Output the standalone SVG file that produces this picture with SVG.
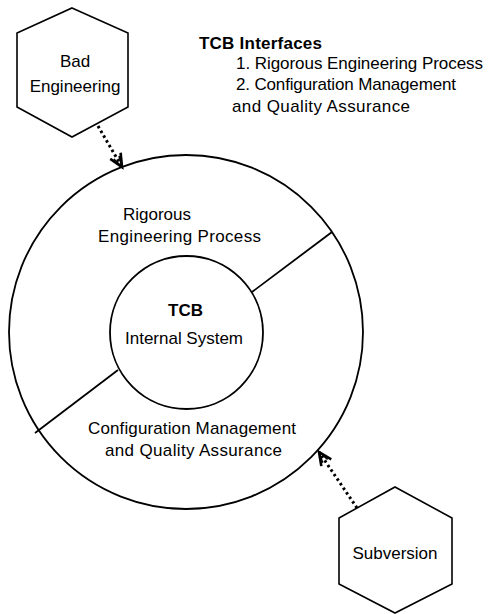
<svg xmlns="http://www.w3.org/2000/svg" width="490" height="614" viewBox="0 0 490 614">
<style>
  text { font-family: "Liberation Sans", Arial, sans-serif; font-size: 17px; fill: #000; }
  .b { font-weight: bold; }
  .shape { fill: #fff; stroke: #000; stroke-width: 1.6; }
  .ring { fill: none; stroke: #000; stroke-width: 1.8; }
  .div { stroke: #000; stroke-width: 1.8; fill: none; }
  .dot { stroke: #000; stroke-width: 3; fill: none; stroke-dasharray: 2.5 3; }
</style>
<defs>
  <marker id="arr" markerUnits="userSpaceOnUse" markerWidth="18" markerHeight="16" refX="15" refY="8" orient="auto" overflow="visible">
    <path d="M2,2 L15,8 L2,14" fill="none" stroke="#000" stroke-width="2.6" stroke-dasharray="none"/>
    <path d="M4,5 L15,8 L4,11" fill="none" stroke="#000" stroke-width="1.6" stroke-dasharray="none"/>
  </marker>
</defs>
<rect width="490" height="614" fill="#fff"/>

<g id="tcb-interfaces-legend">
  <text class="b" x="199" y="49" textLength="123">TCB Interfaces</text>
  <text x="236" y="69" textLength="247">1. Rigorous Engineering Process</text>
  <text x="236" y="90" textLength="220">2. Configuration Management</text>
  <text x="232" y="112" textLength="178">and Quality Assurance</text>
</g>

<g id="outer-ring">
  <circle class="ring" cx="186" cy="332" r="177"/>
</g>

<g id="dividers">
  <line class="div" x1="252" y1="292" x2="332" y2="232"/>
  <line class="div" x1="118" y1="370" x2="35" y2="433"/>
</g>

<g id="rigorous-engineering-process">
  <text x="123" y="220">Rigorous</text>
  <text x="98" y="242" textLength="163">Engineering Process</text>
</g>

<g id="configuration-management">
  <text x="88" y="434" textLength="208">Configuration Management</text>
  <text x="105" y="456" textLength="177">and Quality Assurance</text>
</g>

<g id="tcb-internal-system">
  <circle class="ring" cx="186.5" cy="332.5" r="76.5"/>
  <text class="b" x="185.5" y="316" text-anchor="middle">TCB</text>
  <text x="125" y="344" textLength="118">Internal System</text>
</g>

<g id="bad-engineering">
  <polygon class="shape" points="72,8 128,33 128,107 72,137 17,107 17,33"/>
  <text x="75" y="67" text-anchor="middle">Bad</text>
  <text x="75" y="92" text-anchor="middle">Engineering</text>
</g>

<g id="subversion">
  <polygon class="shape" points="395,487 452,518 452,584 395,613 339,584 339,518"/>
  <text x="395" y="559" text-anchor="middle">Subversion</text>
</g>

<g id="connectors">
  <line class="dot" x1="98" y1="126" x2="122" y2="167" marker-end="url(#arr)"/>
  <line class="dot" x1="357" y1="508" x2="319" y2="452" marker-end="url(#arr)"/>
</g>
</svg>
